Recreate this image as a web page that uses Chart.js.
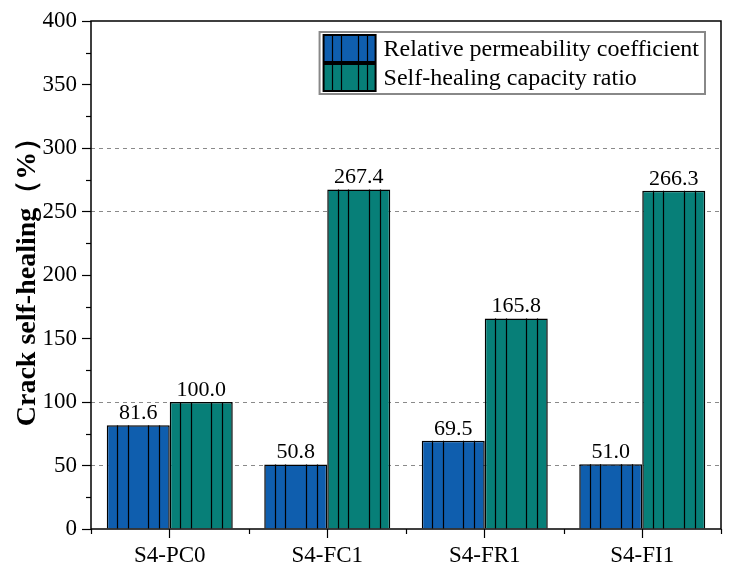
<!DOCTYPE html>
<html><head><meta charset="utf-8">
<script src="https://cdn.jsdelivr.net/npm/chart.js@4.4.1/dist/chart.umd.min.js"></script>
<style>html,body{margin:0;padding:0;background:#fff;overflow:hidden;}</style>
</head><body>
<canvas id="c" width="731" height="575"></canvas>
<script>
const categories = ['S4-PC0', 'S4-FC1', 'S4-FR1', 'S4-FI1'];
const relativePermeability = [81.6, 50.8, 69.5, 51.0];
const selfHealingRatio = [100.0, 267.4, 165.8, 266.3];
const seriesNames = ['Relative permeability coefficient', 'Self-healing capacity ratio'];
const yMin = 0, yMax = 400, yStep = 50;
const dashedGridValues = [50, 100, 250, 300];
const yTitle = 'Crack self-healing（%）';

const COLORS = ['#0F5EAE', '#077F78'];
const SERIF = '"Liberation Serif", "Times New Roman", serif';
const HATCH = [0.17, 0.33, 0.66, 0.83];

function drawHatch(ctx, l, t, w, b) {
  ctx.save();
  ctx.strokeStyle = '#000';
  ctx.lineWidth = 1.2;
  HATCH.forEach(f => {
    const xx = Math.round(l + f * w) + 0.5;
    ctx.beginPath(); ctx.moveTo(xx, t); ctx.lineTo(xx, b); ctx.stroke();
  });
  ctx.restore();
}

const decor = {
  id: 'decor',
  beforeDraw(chart) {
    const ctx = chart.ctx;
    ctx.save(); ctx.fillStyle = '#fff'; ctx.fillRect(0, 0, chart.width, chart.height); ctx.restore();
  },
  afterDatasetsDraw(chart) {
    const ctx = chart.ctx;
    chart.data.datasets.forEach((ds, di) => {
      const meta = chart.getDatasetMeta(di);
      meta.data.forEach((bar, i) => {
        const p = bar.getProps(['x', 'y', 'base', 'width'], true);
        const l = p.x - p.width / 2;
        drawHatch(ctx, l, p.y, p.width, p.base);
        ctx.save();
        ctx.fillStyle = '#000';
        ctx.font = '22px ' + SERIF;
        ctx.textAlign = 'center';
        ctx.textBaseline = 'bottom';
        ctx.fillText(ds.data[i].toFixed(1), p.x, p.y - 1);
        ctx.restore();
      });
    });
  },
  afterDraw(chart) {
    const ctx = chart.ctx;
    const a = chart.chartArea;
    const ys = chart.scales.y, xs = chart.scales.x;
    ctx.save();
    ctx.strokeStyle = '#000';
    ctx.lineWidth = 1.5;
    ctx.strokeRect(a.left, a.top, a.right - a.left, a.bottom - a.top);
    ctx.lineWidth = 1.2;
    for (let v = yMin + yStep / 2; v < yMax; v += yStep) {
      const py = Math.round(ys.getPixelForValue(v)) + 0.5;
      ctx.beginPath(); ctx.moveTo(a.left - 5, py); ctx.lineTo(a.left, py); ctx.stroke();
    }
    const half = (xs.getPixelForValue(1) - xs.getPixelForValue(0)) / 2;
    for (let i = 0; i <= categories.length; i++) {
      const px = Math.round(xs.getPixelForValue(0) - half + i * 2 * half) + 0.5;
      ctx.beginPath(); ctx.moveTo(px, a.bottom); ctx.lineTo(px, a.bottom + 5); ctx.stroke();
    }
    // legend
    ctx.font = '24px ' + SERIF;
    const sw = 52, sh = 27, gap = 8, padL = 4, padR = 6, padT = 3, rowGap = 2;
    const tw = Math.max(...seriesNames.map(s => ctx.measureText(s).width));
    const bw = padL + sw + gap + tw + padR;
    const bh = padT * 2 + sh * 2 + rowGap;
    const bx = a.right - 16 - bw, by = a.top + 11;
    ctx.strokeStyle = '#888';
    ctx.lineWidth = 2;
    ctx.strokeRect(bx, by, bw, bh);
    chart.data.datasets.forEach((ds, di) => {
      const sx = bx + padL, sy = by + padT + di * (sh + rowGap);
      ctx.fillStyle = ds.backgroundColor;
      ctx.fillRect(sx, sy, sw, sh);
      drawHatch(ctx, sx, sy, sw, sy + sh);
      ctx.strokeStyle = '#000';
      ctx.lineWidth = 2;
      ctx.strokeRect(sx, sy, sw, sh);
      ctx.fillStyle = '#000';
      ctx.textAlign = 'left';
      ctx.textBaseline = 'middle';
      ctx.fillText(ds.label, sx + sw + gap, sy + sh / 2 + 1);
    });
    ctx.restore();
  }
};

new Chart(document.getElementById('c'), {
  type: 'bar',
  data: {
    labels: categories,
    datasets: [
      { label: seriesNames[0], data: relativePermeability, backgroundColor: COLORS[0], borderColor: '#000', borderWidth: 1.5 },
      { label: seriesNames[1], data: selfHealingRatio, backgroundColor: COLORS[1], borderColor: '#000', borderWidth: 1.5 }
    ]
  },
  options: {
    responsive: false,
    animation: false,
    devicePixelRatio: 1,
    layout: { padding: { left: 0, top: 21, right: 10, bottom: 0 } },
    datasets: { bar: { barPercentage: 1.0, categoryPercentage: 0.8 } },
    plugins: { legend: { display: false }, tooltip: { enabled: false } },
    scales: {
      x: {
        offset: true,
        border: { display: false },
        grid: { display: true, drawOnChartArea: false, drawTicks: true, tickLength: 9, offset: false, tickColor: '#000', tickWidth: 1.2 },
        ticks: { color: '#000', font: { family: SERIF, size: 23 }, padding: 4, maxRotation: 0 },
        afterFit(s) { s.height = 46; }
      },
      y: {
        min: yMin, max: yMax,
        border: { display: false, dash: [4, 4] },
        grid: {
          drawTicks: true, tickLength: 9, tickColor: '#000', tickWidth: 1.2,
          color: c => dashedGridValues.includes(c.tick && c.tick.value) ? '#8a8a8a' : 'rgba(0,0,0,0)',
          lineWidth: 1
        },
        ticks: { stepSize: yStep, color: '#000', font: { family: SERIF, size: 23 }, padding: 5 },
        title: { display: true, text: yTitle, color: '#000', font: { family: SERIF, size: 28, weight: 'bold' }, padding: { top: 11, bottom: 0 } },
        afterFit(s) { s.width = 91; }
      }
    }
  },
  plugins: [decor]
});
</script>
</body></html>
